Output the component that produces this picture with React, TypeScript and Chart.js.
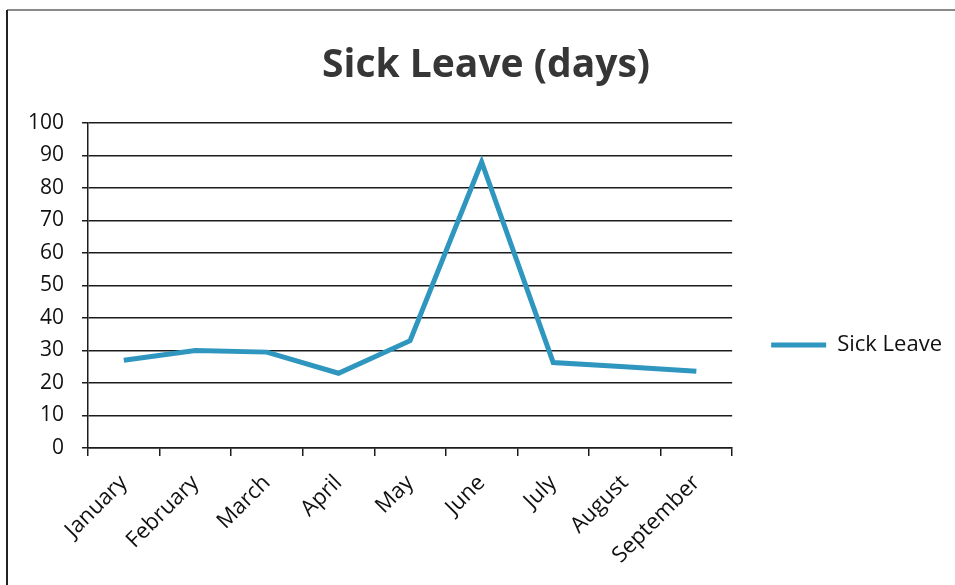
import React, { useEffect, useRef } from "react";
import { Chart, registerables } from "chart.js";

Chart.register(...registerables);

const months = ["January", "February", "March", "April", "May", "June", "July", "August", "September"];
const sickLeave = [27, 30, 29.5, 23, 33, 88, 26.3, 25, 23.6];
const yTicks = [0, 10, 20, 30, 40, 50, 60, 70, 80, 90, 100];

const LINE_COLOR = "#2f97bf";
const GRID = "#1c1c1c";
const FONT = "'Open Sans', sans-serif";

const framePlugin = {
  id: "frame",
  beforeDraw(chart: any) {
    const { ctx, width, height } = chart;
    ctx.save();
    ctx.fillStyle = "#ffffff";
    ctx.fillRect(0, 0, width, height);
    ctx.strokeStyle = "#8a8a8a";
    ctx.lineWidth = 2;
    ctx.beginPath();
    ctx.moveTo(7, 10);
    ctx.lineTo(width, 10);
    ctx.stroke();
    ctx.strokeStyle = "#222";
    ctx.beginPath();
    ctx.moveTo(7, 10);
    ctx.lineTo(7, height);
    ctx.stroke();
    ctx.restore();
  },
};

export default function App() {
  const ref = useRef<HTMLCanvasElement | null>(null);
  useEffect(() => {
    if (!ref.current) return;
    const chart = new Chart(ref.current, {
      type: "line",
      data: {
        labels: months,
        datasets: [
          {
            label: "Sick Leave",
            data: sickLeave,
            borderColor: LINE_COLOR,
            backgroundColor: LINE_COLOR,
            borderWidth: 5,
            pointRadius: 0,
            tension: 0,
          },
        ],
      },
      options: {
        responsive: false,
        animation: false,
        layout: { padding: { left: 20, right: 3, top: 0, bottom: 0 } },
        plugins: {
          tooltip: { enabled: false },
          title: {
            display: true,
            text: "Sick Leave (days)",
            color: "#363636",
            font: { family: FONT, size: 39, weight: "bold", lineHeight: 1.2 },
            padding: { top: 42, bottom: 34.2 },
          },
          legend: {
            position: "right",
            title: { display: true, text: " ", font: { size: 1, lineHeight: 1 }, padding: { top: 104, bottom: 0 } },
            labels: {
              boxWidth: 55,
              boxHeight: 5,
              padding: 39,
              color: "#111",
              font: { family: FONT, size: 22 },
              generateLabels: (c: any) =>
                Chart.defaults.plugins.legend.labels.generateLabels(c).map((l: any) => ({
                  ...l,
                  lineWidth: 0,
                  fillStyle: LINE_COLOR,
                })),
            },
          },
        },
        scales: {
          x: {
            type: "category",
            offset: true,
            grid: { display: true, drawOnChartArea: false, drawTicks: true, tickLength: 8, color: GRID, lineWidth: 1.5, offset: true },
            border: { display: true, color: GRID, width: 1.5 },
            ticks: { minRotation: 45, maxRotation: 45, autoSkip: false, color: "#111", font: { family: FONT, size: 22 }, padding: 14 },
            afterFit: (s: any) => {
              s.height = 137;
            },
          },
          y: {
            min: 0,
            max: 100,
            afterBuildTicks: (s: any) => {
              s.ticks = yTicks.map((v) => ({ value: v }));
            },
            grid: { color: GRID, lineWidth: 1.5, tickLength: 6 },
            border: { display: true, color: GRID, width: 1.5 },
            ticks: { color: "#111", font: { family: FONT, size: 21 }, padding: 18 },
            afterFit: (s: any) => {
              s.width = 68;
            },
          },
        },
      },
      plugins: [framePlugin],
    } as any);
    return () => chart.destroy();
  }, []);
  return (
    <div style={{ position: "fixed", left: 0, top: 0, width: 955, height: 585, background: "#fff" }}>
      <canvas ref={ref} width={955} height={585} style={{ display: "block" }} />
    </div>
  );
}
